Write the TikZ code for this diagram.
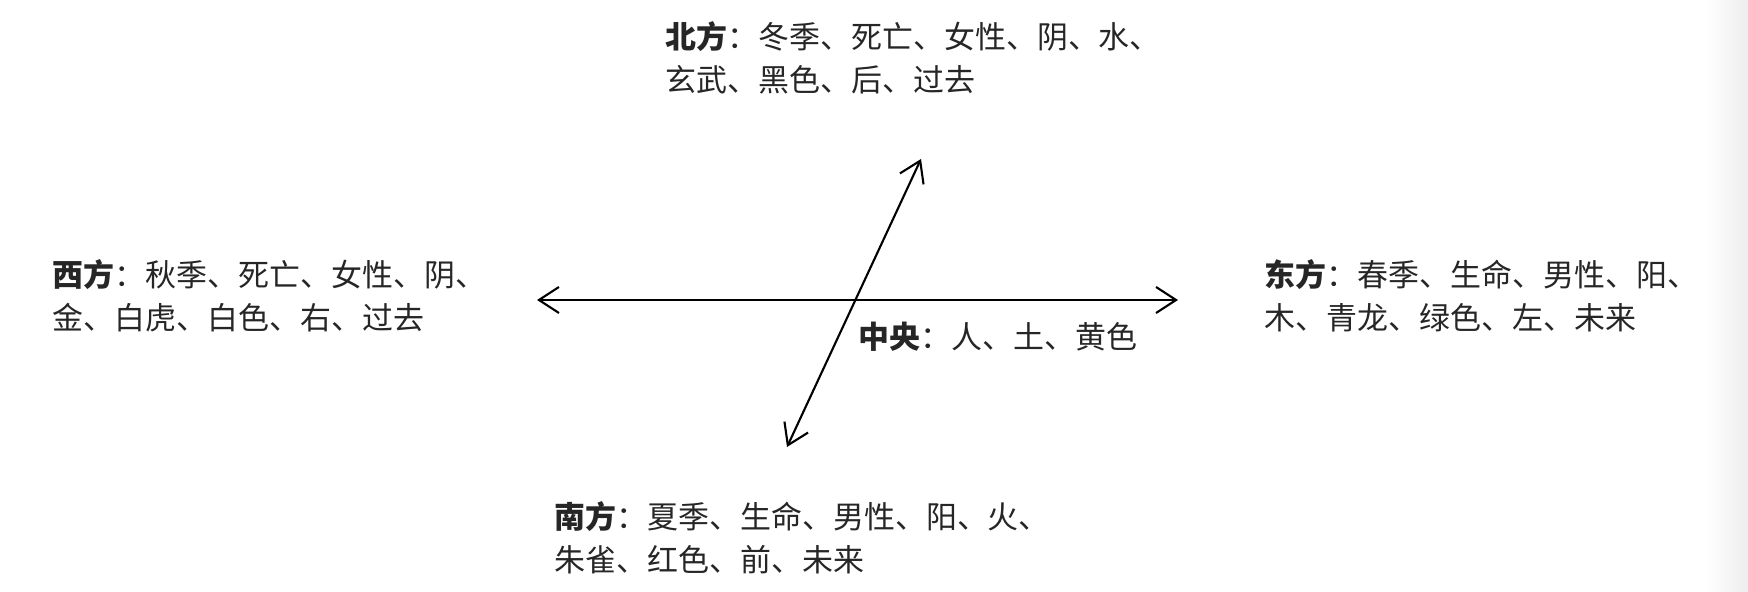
\documentclass[tikz,border=0pt]{standalone}
\usepackage{fontspec}
\setmainfont{Noto Sans CJK SC}
\usetikzlibrary{arrows.meta}

\begin{document}
\begin{tikzpicture}[x=0.01cm,y=-0.01cm,font=\fontsize{8.8pt}{12.2pt}\selectfont,
  lbl/.style={anchor=west,align=left,inner sep=0pt,text=black!85},
  dir/.style={{Straight Barb[length=2mm,width=2.6mm]}-{Straight Barb[length=2mm,width=2.6mm]},line width=0.6pt}]
\useasboundingbox (0,0) rectangle (1748,592);
\shade[left color=white,right color=black!7] (1705,0) rectangle (1748,592);

\begin{scope}
\coordinate (w) at (537,300);
\coordinate (e) at (1178,300);
\coordinate (n) at (921,159);
\coordinate (s) at (787,447);

\draw[dir] (w) -- (e);
\draw[dir] (s) -- (n);
\end{scope}

\node[lbl] (north) at (665,58) {\textbf{北方}：冬季、死亡、女性、阴、水、\\玄武、黑色、后、过去};
\node[lbl] (west) at (52,296) {\textbf{西方}：秋季、死亡、女性、阴、\\金、白虎、白色、右、过去};
\node[lbl] (east) at (1264,296) {\textbf{东方}：春季、生命、男性、阳、\\木、青龙、绿色、左、未来};
\node[lbl] (south) at (554,538) {\textbf{南方}：夏季、生命、男性、阳、火、\\朱雀、红色、前、未来};
\node[lbl] (centre) at (858,337) {\textbf{中央}：人、土、黄色};

\end{tikzpicture}
\end{document}
